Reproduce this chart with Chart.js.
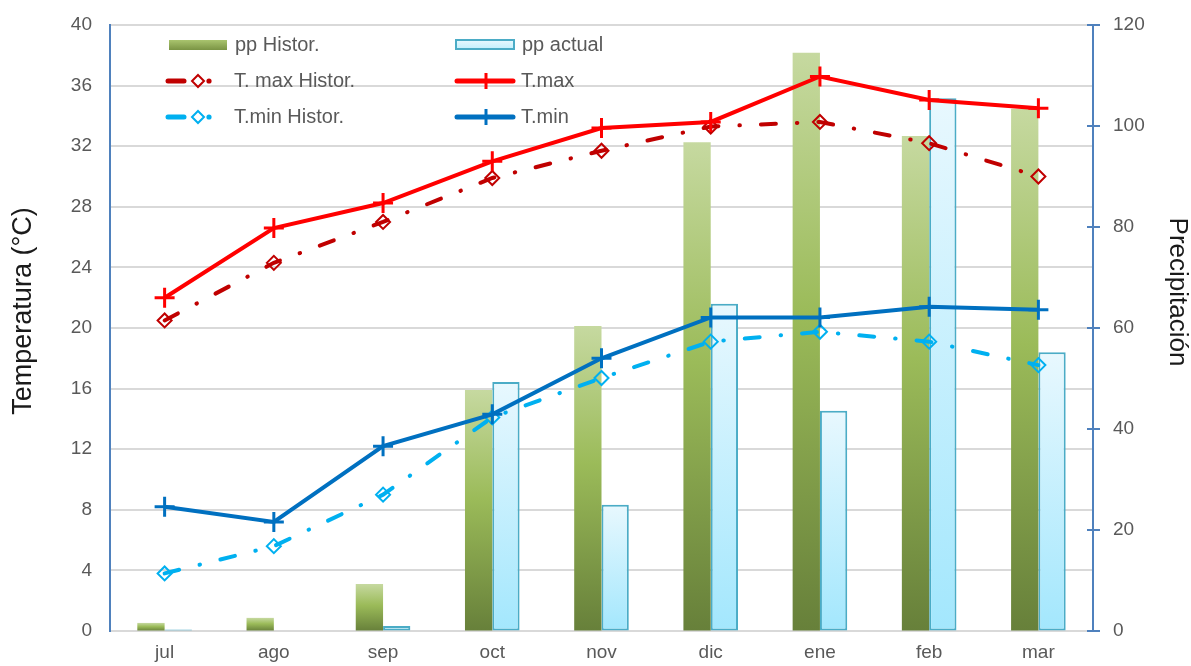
<!DOCTYPE html>
<html>
<head>
<meta charset="utf-8">
<script src="https://cdn.jsdelivr.net/npm/chart.js@4.4.1/dist/chart.umd.min.js"></script>
<style>
  html, body { margin: 0; padding: 0; background: #ffffff; }
  #wrap { position: relative; width: 1191px; height: 666px; }
</style>
</head>
<body>
<div id="wrap"><canvas id="c" width="1191" height="666"></canvas></div>
<script>
// ---- data ----
const categories = ['jul', 'ago', 'sep', 'oct', 'nov', 'dic', 'ene', 'feb', 'mar'];
const ppHistor = [1.6, 2.6, 9.3, 47.7, 60.4, 96.8, 114.5, 98.0, 103.4];
const ppActual = [0.3, null, 1.0, 49.3, 25.0, 64.8, 43.6, 105.5, 55.2];
const tMaxHistor = [20.5, 24.3, 27.0, 29.9, 31.7, 33.3, 33.6, 32.2, 30.0];
const tMax = [22.0, 26.6, 28.25, 31.0, 33.2, 33.6, 36.6, 35.05, 34.5];
const tMinHistor = [3.8, 5.6, 9.0, 14.1, 16.7, 19.1, 19.75, 19.1, 17.55];
const tMin = [8.2, 7.2, 12.2, 14.3, 18.0, 20.7, 20.7, 21.4, 21.2];
const seriesNames = ['pp Histor.', 'pp actual', 'T. max Histor.', 'T.max', 'T.min Histor.', 'T.min'];
const axisTitleLeft = 'Temperatura (°C)';
const axisTitleRight = 'Precipitación';

const FONT = '"Liberation Sans", Arial, sans-serif';
const GREEN_STOPS = [[0, '#C6D9A0'], [0.45, '#9BBB59'], [1, '#67803A']];
const BLUE_STOPS = [[0, '#E8F8FE'], [1, '#A3E7FD']];

function barGradient(ctx, stops, fallback) {
  const chart = ctx.chart;
  if (!chart.chartArea || ctx.type !== 'data' || !chart.scales.y2) return fallback;
  const v = ctx.raw;
  if (v == null) return fallback;
  const y2 = chart.scales.y2;
  const top = y2.getPixelForValue(v);
  const bot = y2.getPixelForValue(0);
  if (bot - top < 1) return fallback;
  const g = chart.ctx.createLinearGradient(0, top, 0, bot);
  stops.forEach(s => g.addColorStop(s[0], s[1]));
  return g;
}

const dashDot = [15, 21, 0.5, 21];

const extras = {
  id: 'extras',
  afterDraw(chart) {
    const c = chart.ctx;
    const y2 = chart.scales.y2;
    const axX = chart.chartArea.right;
    // right axis cross ticks
    c.save();
    c.strokeStyle = '#4F81BD';
    c.lineWidth = 2;
    for (let v = 0; v <= 120; v += 20) {
      const y = Math.round(y2.getPixelForValue(v));
      c.beginPath(); c.moveTo(axX - 6, y); c.lineTo(axX + 7, y); c.stroke();
    }
    c.restore();

    // axis titles
    c.save();
    c.fillStyle = '#1a1a1a';
    c.font = '27px ' + FONT;
    c.textAlign = 'center'; c.textBaseline = 'middle';
    c.translate(24, 311); c.rotate(-Math.PI / 2);
    c.fillText(axisTitleLeft, 0, 0);
    c.restore();
    c.save();
    c.fillStyle = '#1a1a1a';
    c.font = '26px ' + FONT;
    c.textAlign = 'center'; c.textBaseline = 'middle';
    c.translate(1177, 292); c.rotate(Math.PI / 2);
    c.fillText(axisTitleRight, 0, 0);
    c.restore();

    // legend
    c.save();
    c.font = '20px ' + FONT;
    c.fillStyle = '#595959';
    c.textAlign = 'left'; c.textBaseline = 'middle';
    // row 1
    let g = c.createLinearGradient(0, 40, 0, 50);
    g.addColorStop(0, '#A9C46E'); g.addColorStop(1, '#7A9444');
    c.fillStyle = g; c.fillRect(169, 40, 58, 10);
    g = c.createLinearGradient(0, 40, 0, 50);
    g.addColorStop(0, '#E8F8FE'); g.addColorStop(1, '#BDEFFD');
    c.fillStyle = g; c.fillRect(456, 40, 58, 9);
    c.strokeStyle = '#4BACC6'; c.lineWidth = 2; c.strokeRect(456, 40, 58, 9);
    c.fillStyle = '#595959';
    c.fillText(seriesNames[0], 235, 45);
    c.fillText(seriesNames[1], 522, 45);
    // rows 2,3
    const histRow = (y, col) => {
      c.strokeStyle = col; c.lineCap = 'round'; c.lineWidth = 5;
      c.beginPath(); c.moveTo(168, y); c.lineTo(184, y); c.stroke();
      c.lineWidth = 2;
      c.beginPath(); c.moveTo(198, y - 6); c.lineTo(204, y); c.lineTo(198, y + 6); c.lineTo(192, y); c.closePath(); c.stroke();
      c.fillStyle = col; c.beginPath(); c.arc(209, y, 2.6, 0, Math.PI * 2); c.fill();
    };
    const actRow = (y, col) => {
      c.strokeStyle = col; c.lineCap = 'round'; c.lineWidth = 5;
      c.beginPath(); c.moveTo(457, y); c.lineTo(513, y); c.stroke();
      c.lineWidth = 3; c.lineCap = 'butt';
      c.beginPath(); c.moveTo(486, y - 8); c.lineTo(486, y + 8); c.stroke();
    };
    histRow(81, '#C00000'); actRow(81, '#FF0000');
    histRow(117, '#00B0F0'); actRow(117, '#0070C0');
    c.fillStyle = '#595959';
    c.fillText(seriesNames[2], 234, 81);
    c.fillText(seriesNames[3], 521, 81);
    c.fillText(seriesNames[4], 234, 117);
    c.fillText(seriesNames[5], 521, 117);
    c.restore();
  }
};

function fitVertical(width) {
  return s => { s.width = width; s.paddingTop = 5; s.paddingBottom = 5; };
}

new Chart(document.getElementById('c'), {
  data: {
    labels: categories,
    datasets: [
      {
        type: 'bar', label: seriesNames[0], data: ppHistor, yAxisID: 'y2', order: 4,
        backgroundColor: ctx => barGradient(ctx, GREEN_STOPS, '#9BBB59'),
        borderWidth: 0, barPercentage: 1, categoryPercentage: 0.5
      },
      {
        type: 'bar', label: seriesNames[1], data: ppActual, yAxisID: 'y2', order: 5,
        backgroundColor: ctx => barGradient(ctx, BLUE_STOPS, '#C8F1FD'),
        borderColor: '#4BACC6', borderWidth: 2, borderSkipped: false,
        barPercentage: 1, categoryPercentage: 0.5
      },
      {
        type: 'line', label: seriesNames[2], data: tMaxHistor, yAxisID: 'y', order: 2,
        borderColor: '#C00000', borderWidth: 4, borderDash: dashDot, borderCapStyle: 'round',
        pointStyle: 'rectRot', pointRadius: 7, pointBorderWidth: 2,
        pointBorderColor: '#C00000', pointBackgroundColor: 'rgba(255,255,255,0)'
      },
      {
        type: 'line', label: seriesNames[3], data: tMax, yAxisID: 'y', order: 1,
        borderColor: '#FF0000', borderWidth: 4,
        pointStyle: 'cross', pointRadius: 10, pointBorderWidth: 3,
        pointBorderColor: '#FF0000', pointBackgroundColor: '#FF0000'
      },
      {
        type: 'line', label: seriesNames[4], data: tMinHistor, yAxisID: 'y', order: 2,
        borderColor: '#00B0F0', borderWidth: 4, borderDash: dashDot, borderCapStyle: 'round',
        pointStyle: 'rectRot', pointRadius: 7, pointBorderWidth: 2,
        pointBorderColor: '#00B0F0', pointBackgroundColor: 'rgba(255,255,255,0)'
      },
      {
        type: 'line', label: seriesNames[5], data: tMin, yAxisID: 'y', order: 1,
        borderColor: '#0070C0', borderWidth: 4,
        pointStyle: 'cross', pointRadius: 10, pointBorderWidth: 3,
        pointBorderColor: '#0070C0', pointBackgroundColor: '#0070C0'
      }
    ]
  },
  options: {
    responsive: false,
    animation: false,
    layout: { padding: { top: 25, left: 0, right: 0, bottom: 0 } },
    plugins: { legend: { display: false }, tooltip: { enabled: false }, title: { display: false } },
    scales: {
      x: {
        position: 'bottom',
        grid: { display: false, drawTicks: false },
        border: { color: '#D9D9D9', width: 2 },
        ticks: { color: '#595959', font: { family: FONT, size: 19 }, padding: 10 },
        afterFit: s => { s.height = 35; }
      },
      y: {
        position: 'left', min: 0, max: 40,
        ticks: { stepSize: 4, color: '#595959', font: { family: FONT, size: 19 }, padding: 18 },
        grid: { color: '#D9D9D9', lineWidth: 2, drawTicks: false },
        border: { color: '#4F81BD', width: 2 },
        afterFit: fitVertical(110)
      },
      y2: {
        position: 'right', min: 0, max: 120,
        ticks: { stepSize: 20, color: '#595959', font: { family: FONT, size: 19 }, padding: 20 },
        grid: { drawOnChartArea: false, drawTicks: false },
        border: { color: '#4F81BD', width: 2 },
        afterFit: fitVertical(98)
      }
    }
  },
  plugins: [extras]
});
</script>
</body>
</html>
